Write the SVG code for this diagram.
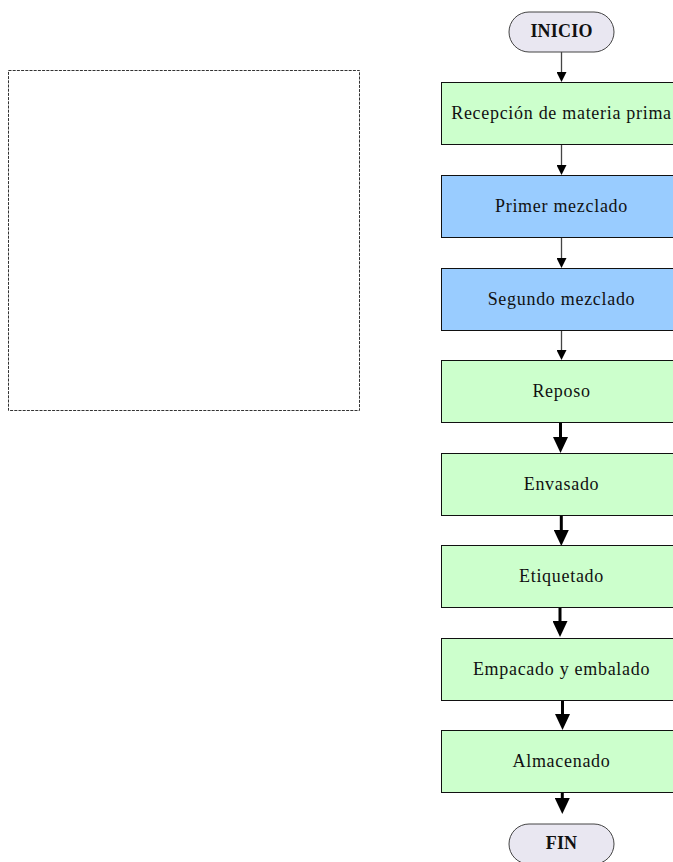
<svg xmlns="http://www.w3.org/2000/svg" width="673" height="862" viewBox="0 0 673 862">
  <style>
    .lbl { font-family: "Liberation Serif", "Times New Roman", serif; font-size: 18px; letter-spacing: 0.7px; fill: #111; text-anchor: middle; }
    .term { fill: #e9e7f1; stroke: #444; stroke-width: 1; }
    .term-lbl { font-weight: bold; letter-spacing: 0.2px; }
    .green { fill: #ccffcc; stroke: #111; stroke-width: 1; }
    .blue { fill: #99ccff; stroke: #111; stroke-width: 1; }
    .thin { stroke: #444; stroke-width: 1.3; fill: none; }
    .thick { stroke: #000; stroke-width: 3; fill: none; }
    .frame { fill: none; stroke: #333; stroke-width: 1; stroke-dasharray: 3 1.2; }
  </style>
  <defs>
    <marker id="head-thin" markerUnits="userSpaceOnUse" markerWidth="10" markerHeight="10" refX="0" refY="5" orient="auto">
      <path d="M0,0 L10,5 L0,10 z" fill="#000"/>
    </marker>
    <marker id="head-thick" markerUnits="userSpaceOnUse" markerWidth="16" markerHeight="15" refX="0" refY="7.5" orient="auto">
      <path d="M0,0 L16,7.5 L0,15 z" fill="#000"/>
    </marker>
  </defs>

  <rect width="673" height="862" fill="#fff"/>

  <!-- empty dashed frame on the left -->
  <rect class="frame" x="8.5" y="70.5" width="351" height="340"/>

  <g id="connectors">
    <line class="thin" x1="561.5" y1="52" x2="561.5" y2="72" marker-end="url(#head-thin)"/>
    <line class="thin" x1="561.5" y1="144.5" x2="561.5" y2="165" marker-end="url(#head-thin)"/>
    <line class="thin" x1="561.5" y1="237.5" x2="561.5" y2="258" marker-end="url(#head-thin)"/>
    <line class="thin" x1="561.5" y1="330.5" x2="561.5" y2="350" marker-end="url(#head-thin)"/>
    <line class="thick" x1="560.5" y1="422.5" x2="560.5" y2="437" marker-end="url(#head-thick)"/>
    <line class="thick" x1="561.3" y1="515.5" x2="561.3" y2="530" marker-end="url(#head-thick)"/>
    <line class="thick" x1="560" y1="607.5" x2="560" y2="621" marker-end="url(#head-thick)"/>
    <line class="thick" x1="562.5" y1="700.5" x2="562.5" y2="714" marker-end="url(#head-thick)"/>
    <line class="thick" x1="562.3" y1="792.5" x2="562.3" y2="798" marker-end="url(#head-thick)"/>
  </g>

  <g id="inicio">
    <rect class="term" x="509" y="12" width="105" height="40" rx="20" ry="20"/>
    <text class="lbl term-lbl" x="561.5" y="37">INICIO</text>
  </g>

  <g id="recepcion">
    <rect class="green" x="441.5" y="82.5" width="240" height="62"/>
    <text class="lbl" x="561.5" y="119">Recepción de materia prima</text>
  </g>

  <g id="primer-mezclado">
    <rect class="blue" x="441.5" y="175.5" width="240" height="62"/>
    <text class="lbl" x="561.5" y="212">Primer mezclado</text>
  </g>

  <g id="segundo-mezclado">
    <rect class="blue" x="441.5" y="268.5" width="240" height="62"/>
    <text class="lbl" x="561.5" y="305">Segundo mezclado</text>
  </g>

  <g id="reposo">
    <rect class="green" x="441.5" y="360.5" width="240" height="62"/>
    <text class="lbl" x="561.5" y="397">Reposo</text>
  </g>

  <g id="envasado">
    <rect class="green" x="441.5" y="453.5" width="240" height="62"/>
    <text class="lbl" x="561.5" y="490">Envasado</text>
  </g>

  <g id="etiquetado">
    <rect class="green" x="441.5" y="545.5" width="240" height="62"/>
    <text class="lbl" x="561.5" y="582">Etiquetado</text>
  </g>

  <g id="empacado">
    <rect class="green" x="441.5" y="638.5" width="240" height="62"/>
    <text class="lbl" x="561.5" y="675">Empacado y embalado</text>
  </g>

  <g id="almacenado">
    <rect class="green" x="441.5" y="730.5" width="240" height="62"/>
    <text class="lbl" x="561.5" y="767">Almacenado</text>
  </g>

  <g id="fin">
    <rect class="term" x="509" y="824" width="105" height="40" rx="20" ry="20"/>
    <text class="lbl term-lbl" x="561.5" y="849">FIN</text>
  </g>
</svg>
